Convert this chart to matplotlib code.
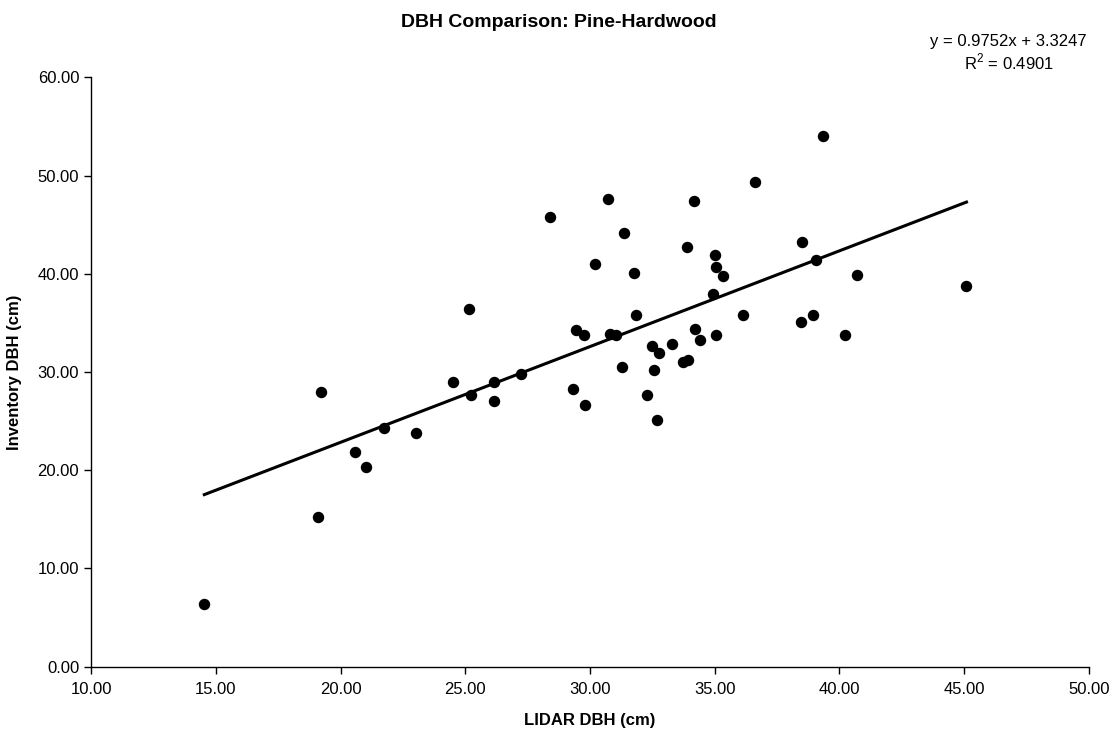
import numpy as np
import matplotlib.pyplot as plt
from matplotlib.ticker import FormatStrFormatter

plt.rcParams['font.family'] = ['Liberation Sans', 'DejaVu Sans']
plt.rcParams['mathtext.fontset'] = 'custom'
plt.rcParams['mathtext.rm'] = 'Liberation Sans'

# LIDAR DBH (cm) and inventory DBH (cm)
lidar_dbh = [14.54, 19.08, 19.20, 20.58, 21.02, 21.74, 23.01, 24.51, 25.13, 25.25,
             26.14, 26.14, 27.25, 28.40, 29.31, 29.42, 29.74, 29.81, 30.20, 30.73,
             30.81, 31.03, 31.27, 31.35, 31.76, 31.83, 32.29, 32.50, 32.57, 32.68,
             32.78, 33.28, 33.72, 33.89, 33.93, 34.16, 34.21, 34.41, 34.95, 35.03,
             35.05, 35.06, 35.35, 36.13, 36.61, 38.46, 38.49, 38.95, 39.04, 39.32,
             40.23, 40.70, 45.09]
inventory_dbh = [6.37, 15.25, 27.94, 21.82, 20.32, 24.31, 23.76, 28.94, 36.41, 27.64,
                 28.94, 27.05, 29.78, 45.77, 28.24, 34.22, 33.72, 26.65, 40.99, 47.66,
                 33.82, 33.72, 30.53, 44.18, 40.09, 35.81, 27.64, 32.67, 30.23, 25.15,
                 31.92, 32.82, 31.03, 42.68, 31.23, 47.36, 34.42, 33.22, 37.90, 41.88,
                 40.64, 33.72, 39.79, 35.81, 49.35, 35.11, 43.18, 35.81, 41.39, 53.99,
                 33.72, 39.89, 38.70]

# regression reported on the chart
slope = 0.9752
intercept = 3.3247
r_squared = 0.4901

fig = plt.figure(figsize=(11.17, 7.33), dpi=100)
ax = fig.add_axes([0.0815, 0.0907, 0.8934, 0.8038])

ax.scatter(lidar_dbh, inventory_dbh, s=52, color='black', zorder=3)

# trend line over the data range
xs = np.array([min(lidar_dbh), max(lidar_dbh)])
ax.plot(xs, slope * xs + intercept, color='black', linewidth=2.2, zorder=2)

ax.set_xlim(10, 50)
ax.set_ylim(0, 60)
ax.set_xticks(np.arange(10, 51, 5))
ax.set_yticks(np.arange(0, 61, 10))
ax.xaxis.set_major_formatter(FormatStrFormatter('%.2f'))
ax.yaxis.set_major_formatter(FormatStrFormatter('%.2f'))
ax.tick_params(direction='out', length=5, width=1, labelsize=12, colors='black')
ax.tick_params(axis='x', pad=6)

for side in ['top', 'right']:
    ax.spines[side].set_visible(False)
for side in ['left', 'bottom']:
    ax.spines[side].set_linewidth(1)
    ax.spines[side].set_color('black')

ax.set_xlabel('LIDAR DBH (cm)', fontsize=12, fontweight='bold', labelpad=12)
ax.set_ylabel('Inventory DBH (cm)', fontsize=12, fontweight='bold', labelpad=11)

fig.text(0.5, 0.963, 'DBH Comparison: Pine-Hardwood', ha='center', va='baseline',
         fontsize=14, fontweight='bold')
fig.text(0.903, 0.937, f'y = {slope}x + {intercept}', ha='center', va='baseline', fontsize=12)
fig.text(0.903, 0.906, f'R$^{{2}}$ = {r_squared}', ha='center', va='baseline', fontsize=12)

fig.savefig('out.png', dpi=100)
